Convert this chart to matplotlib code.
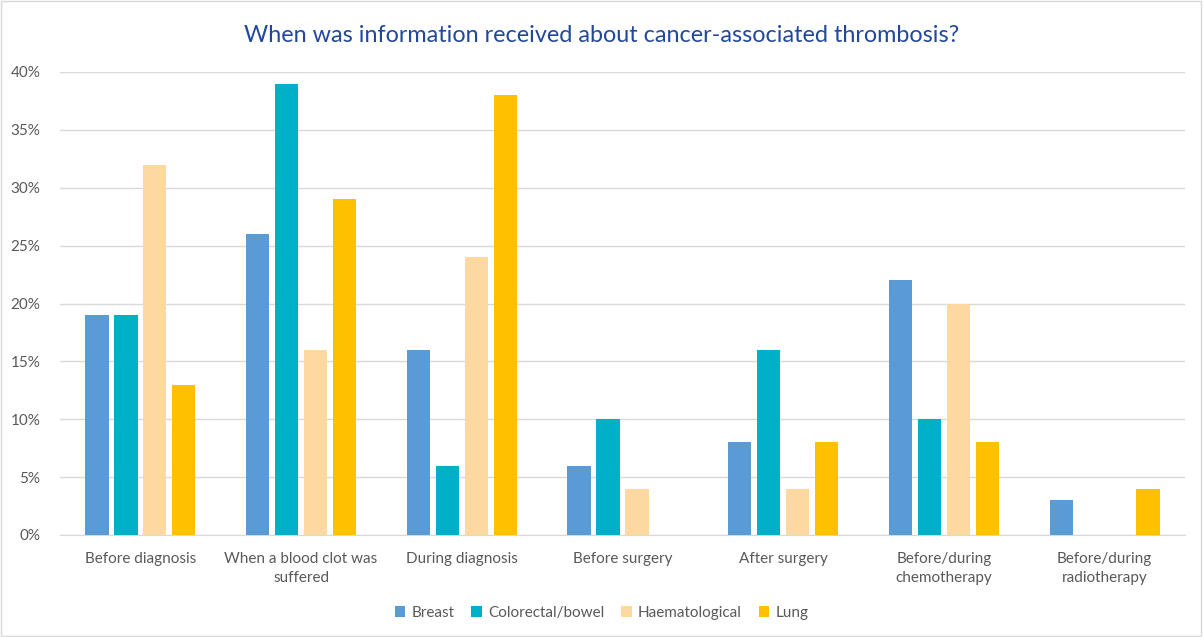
import matplotlib
matplotlib.use("Agg")
import matplotlib.pyplot as plt
import numpy as np
from matplotlib.ticker import PercentFormatter

categories = ["Before diagnosis", "When a blood clot was\nsuffered", "During diagnosis",
              "Before surgery", "After surgery", "Before/during\nchemotherapy",
              "Before/during\nradiotherapy"]
series_names = ["Breast", "Colorectal/bowel", "Haematological", "Lung"]
breast = [19, 26, 16, 6, 8, 22, 3]
colorectal = [19, 39, 6, 10, 16, 10, 0]
haematological = [32, 16, 24, 4, 4, 20, 0]
lung = [13, 29, 38, 0, 8, 8, 4]
colors = ["#5B9BD5", "#00AFC8", "#FDD9A1", "#FFC000"]
yticks = [0, 5, 10, 15, 20, 25, 30, 35, 40]

plt.rcParams['font.family'] = ['Lato', 'DejaVu Sans']
fig = plt.figure(figsize=(12.03, 6.37), dpi=100)
ax = fig.add_axes([60/1203, 1-535/637, 1125/1203, (535-72)/637])

x = np.arange(len(categories))
step = 0.18
width = 0.145
all_series = [breast, colorectal, haematological, lung]
for i, (vals, name, c) in enumerate(zip(all_series, series_names, colors)):
    ax.bar(x + (i - 1.5) * step, vals, width=width, color=c, label=name, zorder=3)

ax.set_xlim(-0.5, len(categories) - 0.5)
ax.set_ylim(0, 40)
ax.set_yticks(yticks)
ax.yaxis.set_major_formatter(PercentFormatter(decimals=0))
ax.grid(axis='y', color='#D9D9D9', linewidth=1, zorder=0)
for s in ['top', 'right', 'left']:
    ax.spines[s].set_visible(False)
ax.spines['bottom'].set_color('#D9D9D9')
ax.tick_params(axis='both', length=0, colors='#595959', labelsize=11)
ax.tick_params(axis='y', pad=14)
ax.tick_params(axis='x', pad=12)
ax.set_xticks(x)
ax.set_xticklabels(categories, linespacing=1.45)

fig.text(0.5, 1-36/637, "When was information received about cancer-associated thrombosis?",
         ha='center', va='center', fontsize=16.8, color='#22489C')

leg = fig.legend(loc='center', bbox_to_anchor=(0.5, 1-613/637), ncol=4, frameon=False,
                 fontsize=11, handlelength=0.7, handleheight=0.7, handletextpad=0.4,
                 columnspacing=1.1)
for t in leg.get_texts():
    t.set_color('#595959')

fig.patches.append(plt.Rectangle((0.001, 0.002), 0.997, 0.996, transform=fig.transFigure,
                                 fill=False, edgecolor='#D9D9D9', linewidth=1))
fig.savefig("out.png", dpi=100)
